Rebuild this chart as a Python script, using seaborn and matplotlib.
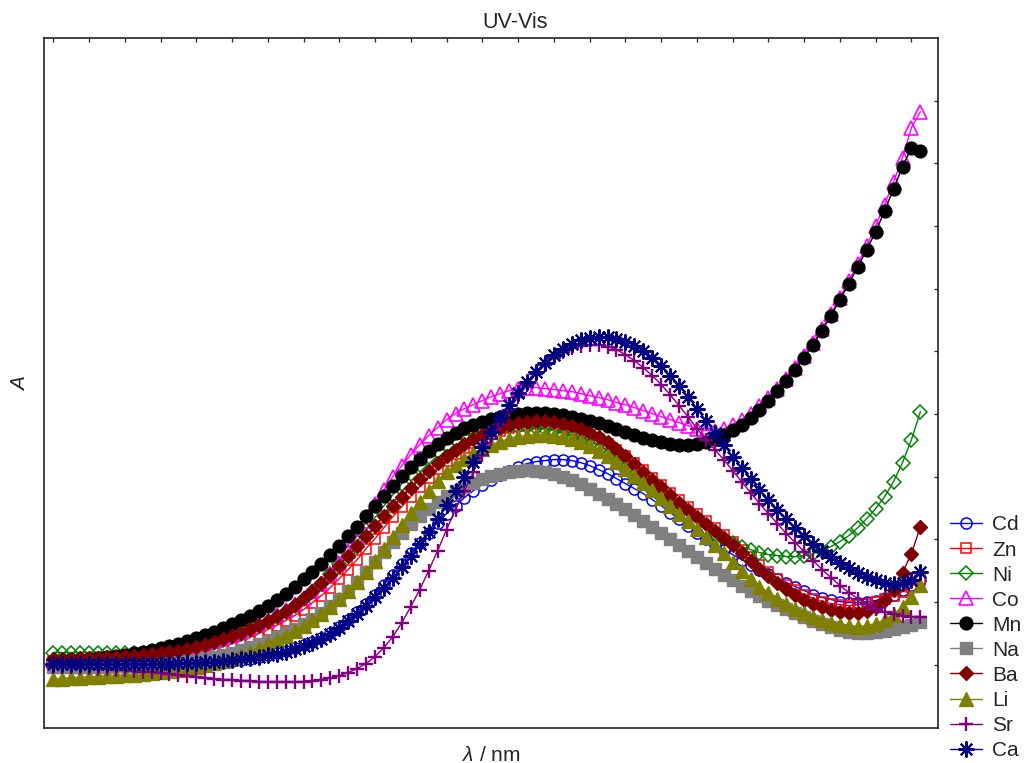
import matplotlib
matplotlib.use("Agg")
import matplotlib.pyplot as plt
import pandas as pd
import seaborn as sns

# wavelength grid (nm)
wavelength = list(range(300, 790, 5))

# absorbance (arbitrary units)
cd = [63,63,63,63,63,63,63,63,63,63, 63,63,63,63,64,64,64,65,65,66,
      67,68,69,71,73,75,77,80,83,86, 90,95,101,108,116,124,133,143,153,164,
      175,185,195,205,214,222,230,237,243,248, 253,257,261,264,266,267,268,268,267,265,
      262,258,254,249,244,239,234,228,222,215, 209,202,195,189,183,178,173,168,163,158,
      154,149,145,141,137,133,130,128,126,125, 125,126,127,130,133,138,143,148]
zn = [66,66,66,66,66,67,67,67,68,68, 69,69,70,71,72,73,75,77,79,81,
      84,87,90,94,98,102,107,112,118,125, 132,140,149,158,168,179,189,200,211,221,
      231,241,250,259,267,274,280,285,290,294, 297,300,302,303,304,304,303,301,298,295,
      293,289,284,278,272,265,258,250,243,235, 228,221,214,207,200,193,186,178,171,163,
      156,149,143,138,133,129,126,124,123,122, 123,124,126,129,132,136,141,148]
ni = [75,75,75,75,75,75,75,75,75,75, 75,76,76,77,78,79,81,83,85,88,
      91,94,98,102,106,111,116,122,129,136, 144,154,164,175,186,198,210,222,233,244,
      254,263,271,277,283,288,292,295,297,299, 300,301,301,301,300,299,297,294,291,287,
      283,278,272,266,259,252,245,238,231,224, 217,211,205,199,194,189,185,181,178,175,
      173,172,171,171,172,174,177,181,186,192, 200,209,219,231,246,265,288,316]
co = [68,68,68,69,69,69,70,70,71,72, 73,74,75,77,78,80,82,84,87,90,
      93,96,100,104,108,113,118,124,130,137, 144,154,165,177,192,207,224,238,251,262,
      273,283,292,300,308,314,319,323,327,331, 334,337,339,340,340,339,338,337,336,334,
      332,330,328,325,323,320,317,314,311,308, 305,302,299,297,297,299,303,308,314,322,
      330,339,349,360,372,385,399,414,430,447, 464,482,502,523,546,570,600,616]
mn = [67,67,68,68,69,70,71,72,73,75, 76,78,80,82,84,87,90,93,96,100,
      104,108,112,117,122,128,134,141,149,156, 164,173,182,192,201,212,222,232,242,252,
      261,269,277,284,290,295,300,303,306,309, 311,313,314,315,315,315,314,313,311,309,
      307,305,302,299,296,293,290,288,286,284, 283,283,284,286,289,293,298,303,310,318,
      327,337,347,358,370,383,397,412,428,444, 461,478,496,517,539,561,580,577]
na = [61,61,61,61,61,61,61,62,62,62, 63,63,64,65,66,67,68,70,71,73,
      75,78,81,84,87,91,95,99,104,109, 115,122,129,137,146,156,166,176,186,195,
      204,212,219,226,232,237,241,245,249,252, 254,256,257,258,257,256,254,251,248,244,
      239,234,229,224,219,213,207,201,195,189, 183,177,171,165,159,153,148,142,137,132,
      127,123,119,115,111,107,104,101,98,96, 95,95,96,97,99,101,103,106]
ba = [69,69,69,70,70,70,71,71,72,72, 73,74,75,76,77,79,81,83,86,89,
      92,95,99,103,107,112,117,123,130,137, 145,153,162,172,182,192,202,212,222,231,
      240,249,257,265,272,278,284,289,293,297, 300,303,305,306,307,307,306,304,302,299,
      295,291,286,279,272,264,256,248,241,233, 225,218,211,204,197,190,183,175,167,159,
      152,145,139,133,128,124,121,118,116,115, 115,117,121,128,138,155,174,201]
li = [49,49,50,50,51,51,52,52,53,53, 54,55,56,57,58,59,61,63,65,67,
      70,73,76,80,84,88,92,97,102,108, 114,121,129,137,146,156,167,179,191,203,
      215,226,237,247,256,263,269,275,279,283, 286,289,291,292,293,293,292,291,289,286,
      282,277,272,266,259,252,245,238,230,222, 214,207,199,191,183,175,166,157,149,141,
      135,129,124,119,115,111,108,105,103,102, 101,102,104,108,113,121,131,143]
sr = [61,61,61,60,60,59,59,58,58,57, 56,56,55,54,53,52,51,50,49,48,
      48,47,47,46,46,46,46,46,46,47, 48,50,52,55,59,64,71,80,91,105,
      121,138,157,177,198,218,237,256,273,289, 304,318,331,343,354,363,370,376,380,382,
      383,383,381,378,373,367,360,352,343,333, 322,311,299,288,278,268,257,246,235,224,
      214,204,194,185,176,167,158,150,142,135, 129,124,119,116,114,112,111,111]
ca = [64,64,64,64,64,64,64,64,64,64, 64,64,64,64,65,65,65,66,66,67,
      68,69,70,71,73,74,76,79,82,85, 89,94,100,107,114,122,131,140,150,161,
      172,184,196,209,223,237,251,266,281,296, 310,323,335,346,356,365,373,379,384,388,
      390,391,391,389,386,382,377,370,362,352, 342,331,319,307,295,283,271,260,249,238,
      228,218,209,200,192,184,177,171,165,160, 155,151,148,145,144,145,148,156]

names = ["Cd", "Zn", "Ni", "Co", "Mn", "Na", "Ba", "Li", "Sr", "Ca"]
series = [cd, zn, ni, co, mn, na, ba, li, sr, ca]
for n, s in zip(names, series):
    assert len(s) == len(wavelength), (n, len(s))

colors = ["#0000FF", "#FF0000", "#008000", "#FF00FF", "#000000",
          "#808080", "#800000", "#808000", "#800080", "#000080"]
markers = ["o", "s", "D", "^", "o", "s", "D", "^", "+", (8, 2, 0)]
filled = [False, False, False, False, True, True, True, True, True, True]
msizes = [8.0, 7.5, 7.0, 9.5, 9.2, 8.0, 7.5, 9.8, 10.0, 11.5]
mews = [1.1, 1.1, 1.1, 1.2, 1.0, 1.0, 1.0, 1.0, 1.7, 1.5]

sns.set_style("white")
plt.rcParams["font.family"] = ["Liberation Sans", "DejaVu Sans"]
plt.rcParams["mathtext.fontset"] = "custom"
plt.rcParams["mathtext.it"] = "Liberation Sans:italic"
plt.rcParams["mathtext.rm"] = "Liberation Sans"

fig = plt.figure(figsize=(10.25, 7.63), dpi=100)
ax = fig.add_axes([0.0432, 0.0465, 0.8722, 0.9041])

for name, vals, c, m, f, ms, mw in zip(names, series, colors, markers, filled, msizes, mews):
    df = pd.DataFrame({"wavelength": wavelength, "A": vals})
    sns.lineplot(data=df, x="wavelength", y="A", ax=ax, color=c, marker=m,
                 markersize=ms, markerfacecolor=(c if f else "none"),
                 markeredgecolor=c, markeredgewidth=mw, linewidth=1.0,
                 label=name)

ax.set_xlim(295, 795)
ax.set_ylim(0, 690)
ax.set_xticks(list(range(300, 781, 20)))
ax.set_yticks([62.7 * k for k in range(1, 11)])
ax.tick_params(axis="x", direction="in", top=True, bottom=False,
               labelbottom=False, labeltop=False, length=3, width=0.9, color="#222222")
ax.tick_params(axis="y", direction="in", right=True, left=False,
               labelleft=False, labelright=False, length=3, width=0.9, color="#222222")
for sp in ax.spines.values():
    sp.set_color("#222222")
    sp.set_linewidth(1.2)

ax.set_xlabel(r"$\lambda$ / nm", fontsize=15, labelpad=13)
ax.set_ylabel(r"$A$", fontsize=15, labelpad=11)
fig.text(0.503, 1 - 22 / 763, "UV-Vis", ha="center", va="center", fontsize=15.5)

ax.legend(loc="upper left", bbox_to_anchor=(950 / 1025, 1 - 515.5 / 763),
          bbox_transform=fig.transFigure, frameon=False, borderpad=0,
          borderaxespad=0, handlelength=1.54, handletextpad=0.48,
          labelspacing=0.29, fontsize=15)

fig.savefig("out.png", dpi=100)
